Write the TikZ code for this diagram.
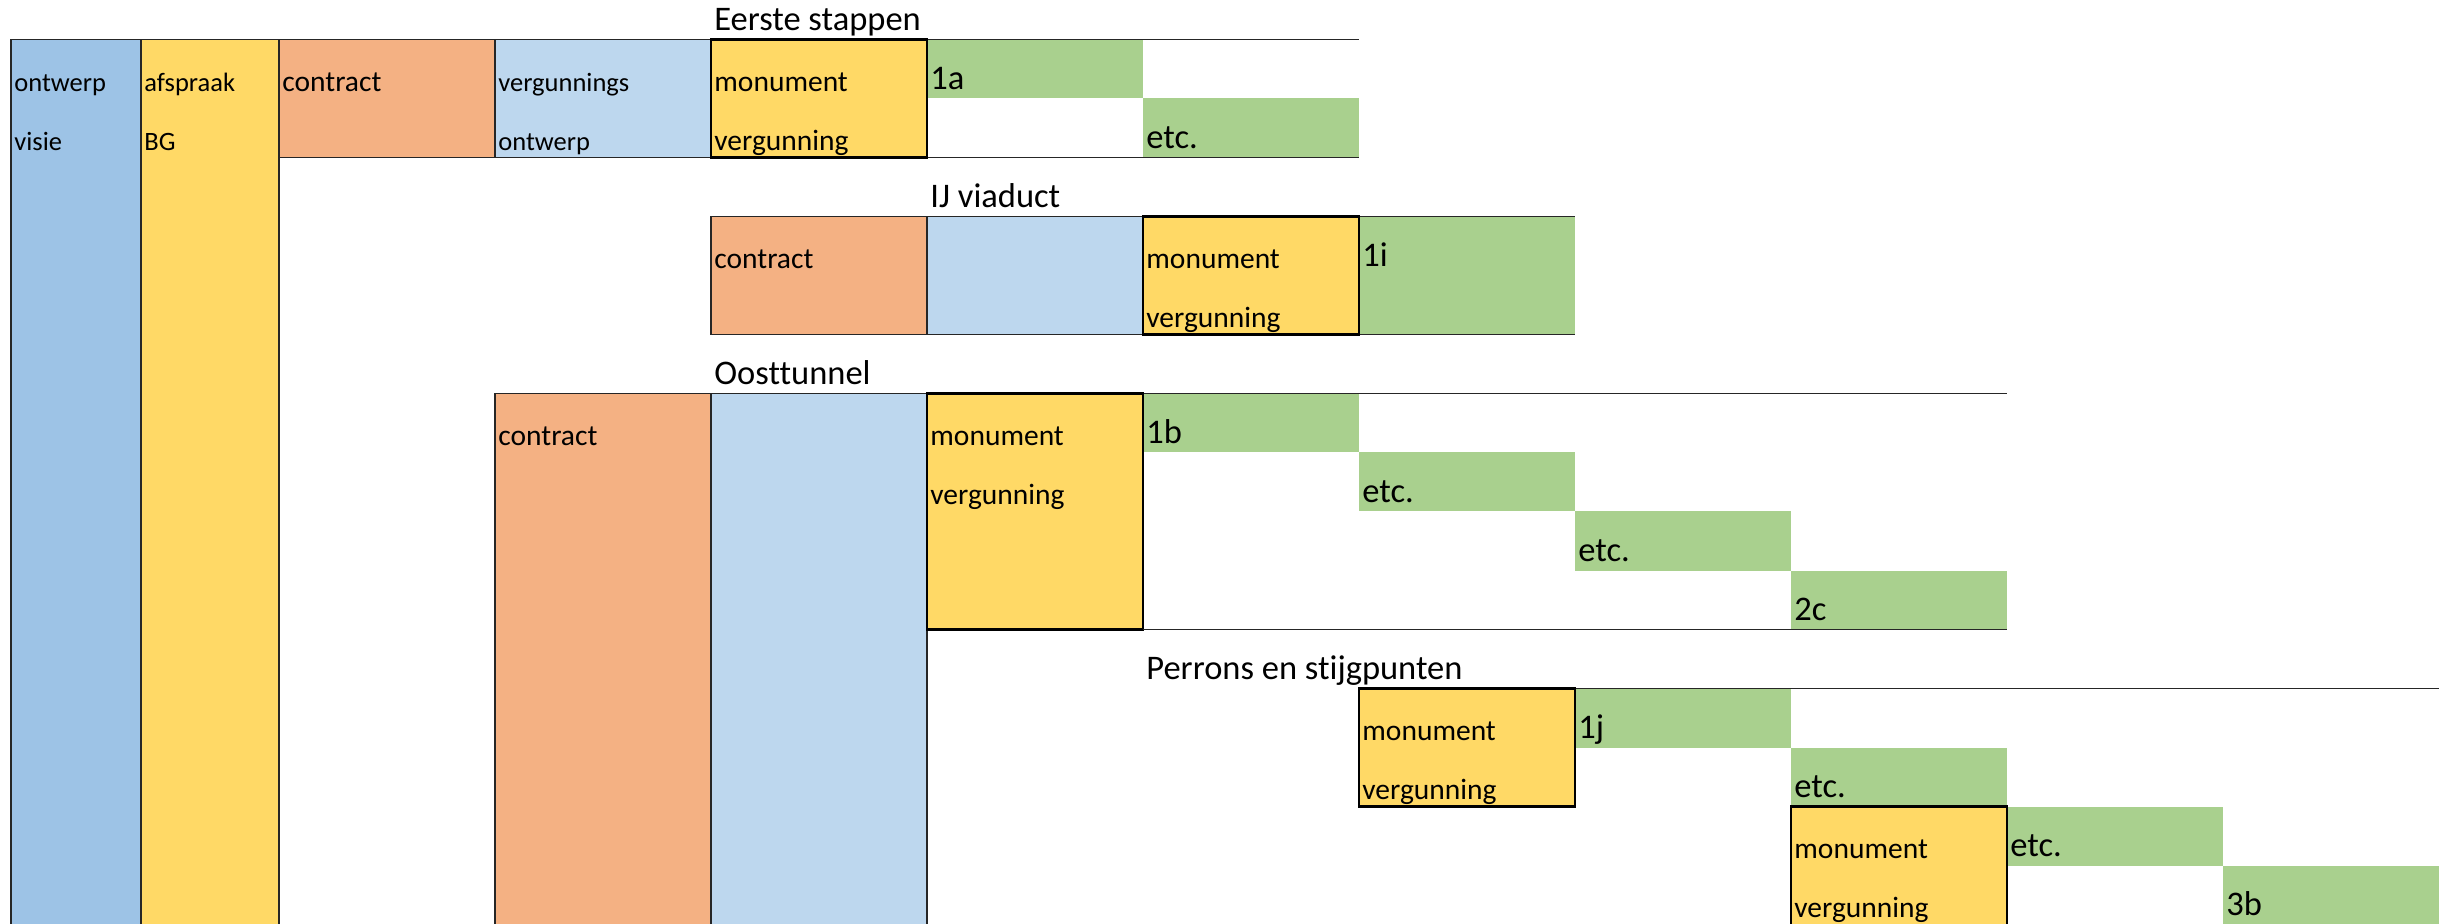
\documentclass[tikz,border=0pt]{standalone}
\usepackage{fontspec}
\setmainfont{Carlito}[Ligatures={NoCommon}]
\usetikzlibrary{fit}
\definecolor{blueA}{HTML}{9DC3E6}
\definecolor{blueB}{HTML}{BDD7EE}
\definecolor{yel}{HTML}{FFD966}
\definecolor{salm}{HTML}{F4B183}
\definecolor{grn}{HTML}{A9D08E}
\definecolor{gridc}{HTML}{262626}
\newcommand{\fntS}{\fontsize{13.25}{16}\selectfont}
\newcommand{\fntM}{\fontsize{14.75}{18}\selectfont}
\newcommand{\fntL}{\fontsize{17.25}{21}\selectfont}
\begin{document}
\begin{tikzpicture}[x=0.5pt,y=-0.5pt,
  cellbox/.style={inner sep=0pt, outer sep=0pt, draw=gridc, line width=0.7pt},
  plain/.style={inner sep=0pt, outer sep=0pt, draw=none, fill=grn},
  thickbox/.style={inner sep=0pt, outer sep=0pt, draw=black, line width=1.3pt, fill=yel},
  rule/.style={draw=gridc, line width=0.7pt},
  txtS/.style={font=\fntS, anchor=base west, inner sep=0pt, xshift=1.5pt, yshift=3.3pt},
  txtM/.style={font=\fntM, anchor=base west, inner sep=0pt, xshift=1.5pt, yshift=3.7pt},
  txtL/.style={font=\fntL, anchor=base west, inner sep=0pt, xshift=1.5pt, yshift=4.3pt}]
\useasboundingbox[fill=white] (0,0) rectangle (2451,924);
\clip (0,0) rectangle (2451,924);

% ---------- fills and thin-bordered cells ----------
% Eerste stappen
\node[fit={(11,39.5) (141,926)}, cellbox, fill=blueA] (colOntwerp) {};
\node[fit={(141,39.5) (279,926)}, cellbox, fill=yel] (colAfspraak) {};
\node[fit={(279,39.5) (495,157.5)}, cellbox, fill=salm] (contractA) {};
\node[fit={(495,39.5) (711,157.5)}, cellbox, fill=blueB] (vergA) {};
\node[fit={(927,39.5) (1143,98.5)}, plain] (gA1) {};
\node[fit={(1143,98.5) (1359,157.5)}, plain] (gA2) {};
% IJ viaduct
\node[fit={(711,216.5) (927,334.5)}, cellbox, fill=salm] (contractB) {};
\node[fit={(927,216.5) (1143,334.5)}, cellbox, fill=blueB] (blueBcell) {};
\node[fit={(1359,216.5) (1575,334.5)}, plain] (gB1) {};
% Oosttunnel
\node[fit={(495,393.5) (711,926)}, cellbox, fill=salm] (contractC) {};
\node[fit={(711,393.5) (927,926)}, cellbox, fill=blueB] (blueCcell) {};
\node[fit={(1143,393.5) (1359,452.5)}, plain] (gC1) {};
\node[fit={(1359,452.5) (1575,511.5)}, plain] (gC2) {};
\node[fit={(1575,511.5) (1791,570.5)}, plain] (gC3) {};
\node[fit={(1791,570.5) (2007,629.5)}, plain] (gC4) {};
% Perrons en stijgpunten
\node[fit={(1575,688.5) (1791,747.5)}, plain] (gD1) {};
\node[fit={(1791,747.5) (2007,806.5)}, plain] (gD2) {};
\node[fit={(2007,806.5) (2223,865.5)}, plain] (gD3) {};
\node[fit={(2223,865.5) (2439,926)}, plain] (gD4) {};

% ---------- table rules ----------
\draw[rule] (colOntwerp.north west) -- (gA2.east |- colOntwerp.north);
\draw[rule] (contractA.south west) -- (gA2.south east);
\draw[rule] (contractB.north west) -- (gB1.north east);
\draw[rule] (contractB.south west) -- (gB1.south east);
\draw[rule] (contractC.north west) -- (gC4.east |- contractC.north);
\coordinate (perronsStart) at (1359,688.5);
\draw[rule] (perronsStart) -- (gD4.east |- perronsStart);

% ---------- thick yellow boxes ----------
\node[fit={(711,39.5) (927,157.5)}, thickbox] (monA) {};
\node[fit={(1143,216.5) (1359,334.5)}, thickbox] (monB) {};
\node[fit={(927,393.5) (1143,629.5)}, thickbox] (monC) {};
\draw[rule] (monC.south east) -- (gC4.south east);
\node[fit={(1359,688.5) (1575,806.5)}, thickbox] (monD) {};
\node[fit={(1791,806.5) (2007,926)}, thickbox] (monE) {};

% ---------- titles ----------
\node[txtL] (tEerste) at (711,39.5) {Eerste stappen};
\node[txtL] (tIJ) at (927,216.5) {IJ viaduct};
\node[txtL] (tOost) at (711,393.5) {Oosttunnel};
\node[txtL] (tPerrons) at (1143,688.5) {Perrons en stijgpunten};

% ---------- texts, Eerste stappen ----------
\node[txtS] (tOntwerp) at (11,98.5) {ontwerp};
\node[txtS] (tVisie) at (11,157.5) {visie};
\node[txtS] (tAfspraak) at (141,98.5) {afspraak};
\node[txtS] (tBG) at (141,157.5) {BG};
\node[txtM] (tContractA) at (279,98.5) {contract};
\node[txtS] (tVergs) at (495,98.5) {vergunnings};
\node[txtS] (tOntwerpB) at (495,157.5) {ontwerp};
\node[txtM] (tMonA) at (711,98.5) {monument};
\node[txtM] (tVergA) at (711,157.5) {vergunning};
\node[txtL] (t1a) at (927,98.5) {1a};
\node[txtL] (tEtcA) at (1143,157.5) {etc.};

% ---------- texts, IJ viaduct ----------
\node[txtM] (tContractB) at (711,275.5) {contract};
\node[txtM] (tMonB) at (1143,275.5) {monument};
\node[txtM] (tVergB) at (1143,334.5) {vergunning};
\node[txtL] (t1i) at (1359,275.5) {1i};

% ---------- texts, Oosttunnel ----------
\node[txtM] (tContractC) at (495,452.5) {contract};
\node[txtM] (tMonC) at (927,452.5) {monument};
\node[txtM] (tVergC) at (927,511.5) {vergunning};
\node[txtL] (t1b) at (1143,452.5) {1b};
\node[txtL] (tEtcC1) at (1359,511.5) {etc.};
\node[txtL] (tEtcC2) at (1575,570.5) {etc.};
\node[txtL] (t2c) at (1791,629.5) {2c};

% ---------- texts, Perrons ----------
\node[txtM] (tMonD) at (1359,747.5) {monument};
\node[txtM] (tVergD) at (1359,806.5) {vergunning};
\node[txtL] (t1j) at (1575,747.5) {1j};
\node[txtL] (tEtcD1) at (1791,806.5) {etc.};
\node[txtM] (tMonE) at (1791,865.5) {monument};
\node[txtM] (tVergE) at (1791,924.5) {vergunning};
\node[txtL] (tEtcD2) at (2007,865.5) {etc.};
\node[txtL] (t3b) at (2223,924.5) {3b};
\end{tikzpicture}
\end{document}
